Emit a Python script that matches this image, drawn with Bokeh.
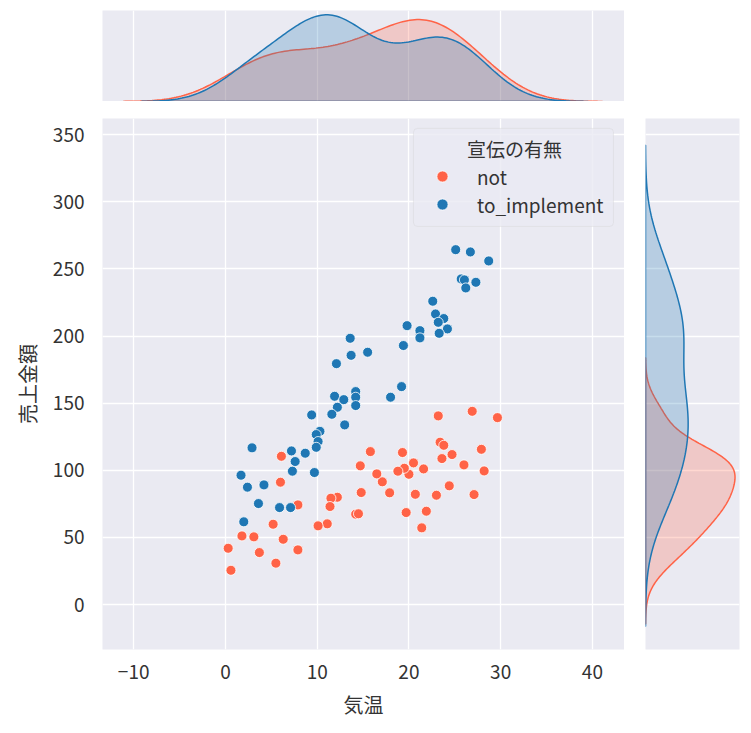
import numpy as np
from bokeh.plotting import figure
from bokeh.models import Range1d, FixedTicker, Grid, Legend, LegendItem, Label, BoxAnnotation
from bokeh.layouts import column, row
from bokeh.embed import file_html
from bokeh.resources import INLINE

# ---------------- data ----------------
groups = ["not", "to_implement"]
group_colors = ["tomato", "#1f77b4"]
legend_title = "宣伝の有無"
x_label = "気温"
y_label = "売上金額"

not_temp = [23.2, 26.9, 29.65, 23.4, 23.8, 24.7, 23.6, 27.9, 26.0, 28.2,
            24.4, 27.1, 23.0, 21.9, 21.4, 19.7, 20.7, 21.6, 20.5, 20.0,
            19.5, 18.8, 19.3, 17.9, 17.1, 16.5, 15.8, 14.7, 14.8, 14.2,
            14.5, 12.2, 11.5, 11.4, 11.1, 10.1, 7.9, 6.1, 6.0, 5.2,
            6.3, 7.9, 5.5, 3.7, 3.1, 1.8, 0.3, 0.6]
not_sales = [140.5, 143.9, 139.2, 120.9, 118.6, 111.7, 108.7, 115.6, 104.0, 99.5,
             88.4, 81.9, 81.4, 69.5, 57.1, 68.5, 82.1, 101.0, 105.5, 97.0,
             101.5, 99.3, 113.2, 83.2, 91.4, 97.3, 113.9, 103.3, 83.4, 67.3,
             67.6, 79.9, 79.2, 73.0, 60.1, 58.6, 74.2, 110.4, 91.1, 59.8,
             48.6, 40.7, 30.8, 38.7, 50.4, 51.1, 41.9, 25.5]

impl_temp = [25.1, 26.7, 28.7, 25.7, 26.05, 27.3, 26.2, 22.6, 22.9, 23.8,
             23.2, 24.2, 23.3, 19.8, 21.2, 21.2, 19.4, 13.6, 13.7, 15.5,
             12.1, 19.2, 18.0, 11.9, 14.2, 14.2, 12.9, 12.2, 14.2, 9.4,
             11.6, 13.0, 10.3, 9.9, 10.1, 9.9, 8.7, 7.2, 7.6, 7.3,
             9.7, 2.9, 1.7, 2.4, 4.2, 3.6, 5.9, 7.1, 2.0]
impl_sales = [264.3, 262.6, 255.9, 242.5, 241.8, 240.0, 235.8, 225.9, 216.4, 213.0,
              210.2, 205.3, 202.0, 207.7, 204.0, 198.6, 192.9, 198.3, 185.6, 187.9,
              179.4, 162.3, 154.4, 155.1, 158.6, 154.4, 152.6, 146.9, 148.2, 141.2,
              141.7, 133.8, 129.0, 126.6, 121.4, 117.1, 112.7, 114.4, 106.5, 99.3,
              98.3, 116.7, 96.3, 87.4, 89.1, 75.2, 72.2, 72.2, 61.6]

x_ticks = [-10, 0, 10, 20, 30, 40]
y_ticks = [0, 50, 100, 150, 200, 250, 300, 350]

series_x = [not_temp, impl_temp]
series_y = [not_sales, impl_sales]

FONT = "Noto Sans CJK JP"
BG = "#EAEAF2"
TXT = "#333333"

n_total = sum(len(s) for s in series_x)


def kde(data, cut=3, gridsize=200):
    d = np.asarray(data, float)
    n = len(d)
    bw = d.std(ddof=1) * n ** (-1 / 5)
    support = np.linspace(d.min() - cut * bw, d.max() + cut * bw, gridsize)
    dens = np.exp(-0.5 * ((support[:, None] - d[None, :]) / bw) ** 2).sum(1)
    dens /= (n * bw * np.sqrt(2 * np.pi))
    dens *= n / n_total
    return support, dens


x_range = Range1d(-13.4, 43.5)
y_range = Range1d(-33.5, 362)

# ---------------- main plot ----------------
p = figure(width=10, height=10, frame_width=522, frame_height=531,
           x_range=x_range, y_range=y_range,
           output_backend="svg", toolbar_location=None,
           min_border_left=102, min_border_right=0, min_border_top=17, min_border_bottom=70)
p.background_fill_color = BG
p.border_fill_color = "white"
p.outline_line_color = None

for ax in (p.xaxis[0], p.yaxis[0]):
    ax.axis_line_color = None
    ax.major_tick_line_color = None
    ax.minor_tick_line_color = None
    ax.major_tick_out = 0
    ax.major_tick_in = 0
    ax.minor_tick_out = 0
    ax.major_label_text_font = FONT
    ax.major_label_text_font_size = "19px"
    ax.major_label_text_color = TXT
    ax.axis_label_text_font = FONT
    ax.axis_label_text_font_size = "20px"
    ax.axis_label_text_font_style = "normal"
    ax.axis_label_text_color = TXT

p.xaxis.ticker = FixedTicker(ticks=x_ticks)
p.yaxis.ticker = FixedTicker(ticks=y_ticks)
p.xaxis.major_label_overrides = {-10: "−10"}
p.xaxis.axis_label = x_label
p.yaxis.axis_label = y_label
p.xaxis.major_label_standoff = 15
p.yaxis.major_label_standoff = 18
p.xaxis.axis_label_standoff = 8
p.yaxis.axis_label_standoff = 8
p.grid.grid_line_color = "white"
p.grid.grid_line_width = 1.3

items = []
for g, c, xs, ys in zip(groups, group_colors, series_x, series_y):
    r = p.scatter(xs, ys, size=10, fill_color=c, line_color="white", line_width=0.8)
    items.append(LegendItem(label=g, renderers=[r]))

# legend frame (drawn as a box so that the centred title can sit above it)
legend_box = BoxAnnotation(left=20.5, right=42.3, top=354.6, bottom=281.6,
                           fill_color=BG, fill_alpha=0.8,
                           line_color="#cccccc", line_width=1, border_radius=4)
p.add_layout(legend_box)

legend = Legend(items=items, title="\u3000" * len(legend_title), location="top_right")
legend.title_text_font = FONT
legend.title_text_font_size = "19px"
legend.title_text_font_style = "normal"
legend.title_text_color = TXT
legend.title_standoff = 0
legend.label_text_font = FONT
legend.label_text_font_size = "19px"
legend.label_text_color = TXT
legend.padding = 6
legend.margin = 11
legend.glyph_width = 42
legend.glyph_height = 28
legend.label_height = 28
legend.label_width = 130
legend.label_standoff = 14
legend.spacing = 0
legend.background_fill_alpha = 0
legend.border_line_alpha = 0
p.add_layout(legend)

title_label = Label(x=31.5, y=340.0, text=legend_title, text_align="center",
                    text_baseline="middle", text_font=FONT, text_font_size="19px",
                    text_color=TXT)
p.add_layout(title_label)

# ---------------- marginal KDEs ----------------
kx = [kde(s) for s in series_x]
ky = [kde(s) for s in series_y]
max_dx = max(d.max() for _, d in kx)
max_dy = max(d.max() for _, d in ky)

p_top = figure(width=10, height=10, frame_width=522, frame_height=91,
               x_range=x_range, y_range=Range1d(0, max_dx * 1.05),
               x_axis_type=None, y_axis_type=None,
               output_backend="svg", toolbar_location=None,
               min_border_left=102, min_border_right=0, min_border_top=10, min_border_bottom=0)
p_top.background_fill_color = BG
p_top.outline_line_color = None
p_top.add_layout(Grid(dimension=0, ticker=FixedTicker(ticks=x_ticks),
                      grid_line_color="white", grid_line_width=1.3))

p_right = figure(width=10, height=10, frame_width=94, frame_height=531,
                 x_range=Range1d(0, max_dy * 1.05), y_range=y_range,
                 x_axis_type=None, y_axis_type=None,
                 output_backend="svg", toolbar_location=None,
                 min_border_left=21, min_border_right=4, min_border_top=17, min_border_bottom=70)
p_right.background_fill_color = BG
p_right.outline_line_color = None
p_right.add_layout(Grid(dimension=1, ticker=FixedTicker(ticks=y_ticks),
                        grid_line_color="white", grid_line_width=1.3))

for c, (sx, dx), (sy, dy) in zip(group_colors, kx, ky):
    xs = np.concatenate([sx, sx[::-1]])
    ys = np.concatenate([dx, np.zeros_like(dx)])
    p_top.patch(xs, ys, fill_color=c, fill_alpha=0.25, line_color=c, line_width=1.5)
    p_right.patch(np.concatenate([dy, np.zeros_like(dy)]), np.concatenate([sy, sy[::-1]]),
                  fill_color=c, fill_alpha=0.25, line_color=c, line_width=1.5)

layout = column(p_top, row(p, p_right))
open("out.html", "w").write(file_html(layout, INLINE))
